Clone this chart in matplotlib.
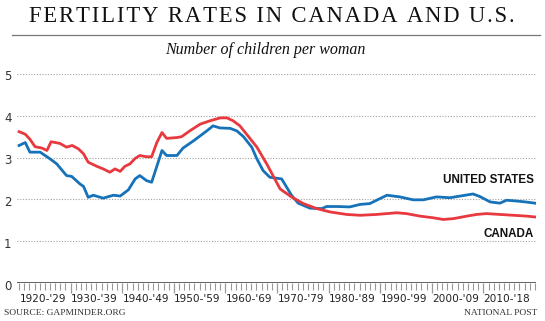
import matplotlib
matplotlib.use("Agg")
import matplotlib.pyplot as plt
import matplotlib.transforms as mtransforms
import numpy as np

# Total fertility rate, children per woman
us_years = [1920.0, 1921.2, 1922.1, 1924.1, 1926.0, 1927.3, 1929.2, 1930.2, 1931.8, 1932.5,
            1933.4, 1934.4, 1936.3, 1938.3, 1939.6, 1941.2, 1942.5, 1943.4, 1944.7, 1945.7,
            1947.7, 1948.6, 1950.6, 1951.8, 1953.8, 1955.1, 1956.4, 1957.6, 1958.9, 1960.9,
            1962.2, 1963.5, 1965.1, 1966.1, 1967.3, 1968.6, 1970.9, 1972.8, 1974.1, 1976.4,
            1978.7, 1979.6, 1981.6, 1984.1, 1986.1, 1988.0, 1989.3, 1991.3, 1993.8, 1996.4,
            1998.4, 2000.9, 2003.5, 2005.5, 2008.0, 2009.3, 2011.3, 2013.2, 2014.5, 2016.5,
            2018.1, 2020.0]
us_rate = [3.29, 3.36, 3.13, 3.13, 2.97, 2.85, 2.57, 2.55, 2.37, 2.31,
           2.05, 2.10, 2.03, 2.10, 2.08, 2.23, 2.49, 2.57, 2.45, 2.41,
           3.17, 3.05, 3.05, 3.23, 3.40, 3.52, 3.64, 3.76, 3.71, 3.70,
           3.64, 3.50, 3.25, 2.97, 2.69, 2.53, 2.49, 2.10, 1.91, 1.79,
           1.78, 1.83, 1.83, 1.82, 1.88, 1.90, 1.98, 2.10, 2.06, 1.99,
           1.99, 2.06, 2.04, 2.08, 2.13, 2.07, 1.94, 1.91, 1.98, 1.96,
           1.94, 1.91]

ca_years = [1920.0, 1921.2, 1922.1, 1923.1, 1924.4, 1925.4, 1926.2, 1927.9, 1929.2, 1930.3,
            1931.5, 1932.5, 1933.4, 1935.1, 1936.3, 1937.6, 1938.6, 1939.6, 1940.5, 1941.5,
            1942.5, 1943.4, 1944.7, 1945.7, 1946.7, 1947.7, 1948.6, 1950.6, 1951.5, 1953.1,
            1955.1, 1957.0, 1959.0, 1960.3, 1961.5, 1962.8, 1964.1, 1966.1, 1968.0, 1970.6,
            1972.8, 1975.1, 1977.7, 1980.3, 1983.5, 1986.1, 1989.3, 1993.2, 1995.1, 1997.7,
            2000.3, 2002.2, 2004.2, 2006.8, 2008.7, 2010.6, 2013.2, 2015.8, 2018.4, 2020.0]
ca_rate = [3.62, 3.56, 3.44, 3.26, 3.23, 3.17, 3.38, 3.34, 3.25, 3.29,
           3.21, 3.09, 2.89, 2.79, 2.73, 2.65, 2.73, 2.67, 2.79, 2.85,
           2.98, 3.05, 3.02, 3.02, 3.36, 3.60, 3.46, 3.48, 3.50, 3.64,
           3.80, 3.88, 3.95, 3.95, 3.88, 3.76, 3.56, 3.25, 2.85, 2.25,
           2.06, 1.90, 1.78, 1.70, 1.64, 1.62, 1.64, 1.68, 1.66, 1.60,
           1.56, 1.52, 1.54, 1.60, 1.64, 1.66, 1.64, 1.62, 1.60, 1.58]

decades = [1920, 1930, 1940, 1950, 1960, 1970, 1980, 1990, 2000, 2010]
decade_labels = ["1920-'29", "1930-'39", "1940-'49", "1950-'59", "1960-'69",
                 "1970-'79", "1980-'89", "1990-'99", "2000-'09", "2010-'18"]
y_ticks = [0, 1, 2, 3, 4, 5]

BLUE = "#1672b9"
RED = "#e8393f"
SERIF = "Liberation Serif"
SANS = "DejaVu Sans"

fig = plt.figure(figsize=(5.45, 3.21), dpi=100)
ax = fig.add_axes([17 / 545, 38 / 321, 519 / 545, 209 / 321])

ax.plot(us_years, us_rate, color=BLUE, lw=2.0, solid_joinstyle="round", zorder=3)
ax.plot(ca_years, ca_rate, color=RED, lw=2.0, solid_joinstyle="round", zorder=4)

ax.set_xlim(1919.6, 2020.2)
ax.set_ylim(0, 5)

# dotted gridlines, no frame
for s in ax.spines.values():
    s.set_visible(False)
for v in y_ticks[1:]:
    ax.axhline(v, color="#a0a0a0", lw=0.8, ls=(0, (1, 1.5)), zorder=1)
ax.axhline(0, color="#333333", lw=1.8, zorder=5)

ax.set_yticks([])
ytrans = mtransforms.offset_copy(ax.get_yaxis_transform(), fig=fig, x=-13, y=-3, units="dots")
for v in y_ticks:
    ax.text(0, v, str(v), transform=ytrans, ha="left", va="center",
            fontsize=8.5, color="#333333", family=SANS)

# year ticks along the bottom
ax.set_xticks(decades[1:])
ax.set_xticks(np.arange(1920, 2021), minor=True)
ax.tick_params(axis="x", which="major", direction="out", length=7, width=0.9,
               color="#999999", labelbottom=False)
ax.tick_params(axis="x", which="minor", direction="out", length=5, width=0.8,
               color="#999999")

xtrans = mtransforms.blended_transform_factory(ax.transData, fig.transFigure)
for d, lab in zip(decades, decade_labels):
    ax.text(d + 4.6, 1 - 299 / 321, lab, transform=xtrans, ha="center", va="center",
            fontsize=7.6, color="#222222", family=SANS)

label_font = dict(ha="right", va="center", fontsize=8.4, fontweight="bold",
                  color="#111111", family="Liberation Sans")
ax.text(2020.2, 1.94, "UNITED STATES",
        transform=mtransforms.offset_copy(ax.transData, fig=fig, x=-2, y=22, units="dots"),
        **label_font)
ax.text(2020.2, 1.58, "CANADA",
        transform=mtransforms.offset_copy(ax.transData, fig=fig, x=-2, y=-17, units="dots"),
        **label_font)

# header
title = "FERTILITY RATES IN CANADA AND U.S."
fig.text(272 / 545, 1 - 16 / 321, "\u200a".join(title), ha="center", va="center",
         fontsize=16.3, color="#111111", family=SERIF)
fig.add_artist(plt.Line2D([12 / 545, 540 / 545], [1 - 35 / 321] * 2, color="#777777",
                          lw=0.9, transform=fig.transFigure))
fig.text(265 / 545, 1 - 50 / 321, "Number of children per woman", ha="center", va="center",
         fontsize=11.5, style="italic", color="#111111", family=SERIF)

fig.text(4 / 545, 1 - 313 / 321, "SOURCE: GAPMINDER.ORG", ha="left", va="center",
         fontsize=6.8, color="#333333", family=SERIF)
fig.text(537 / 545, 1 - 313 / 321, "NATIONAL POST", ha="right", va="center",
         fontsize=6.8, color="#333333", family=SERIF)

fig.savefig("out.png", dpi=100, facecolor="white")
